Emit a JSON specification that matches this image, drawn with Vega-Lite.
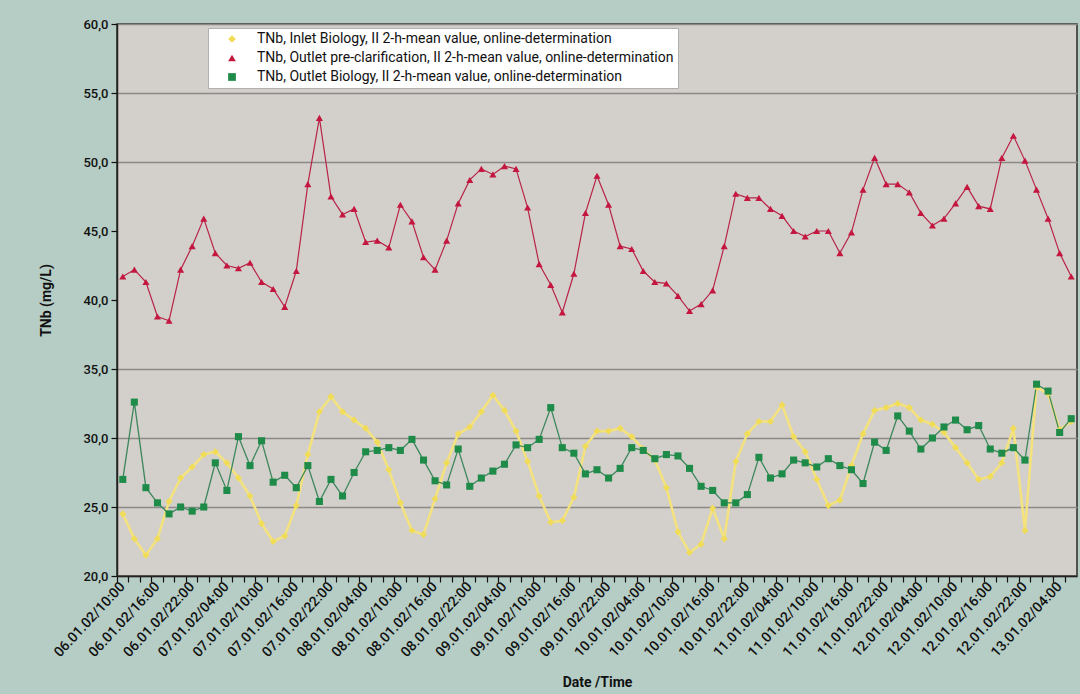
{
  "$schema": "https://vega.github.io/schema/vega-lite/v6.json",
  "width": 960,
  "height": 552,
  "autosize": {"type": "none"},
  "padding": {"left": 117, "top": 24, "right": 3, "bottom": 118},
  "background": "#b6cdc5",
  "config": {
    "font": "Roboto",
    "view": {"fill": "#d3cfcb", "stroke": "#2b2b2b", "strokeWidth": 1.5},
    "legend": {
      "orient": "none",
      "legendX": 91,
      "legendY": 4,
      "fillColor": "#ffffff",
      "strokeColor": "#b0b0b0",
      "padding": 4,
      "symbolSize": 60,
      "symbolOffset": 13,
      "labelOffset": 18,
      "rowPadding": 5,
      "labelFont": "Roboto",
      "labelFontSize": 14,
      "labelColor": "#111111",
      "labelLimit": 700
    }
  },
  "data": {"values": [
    {"t":"06.01.02/10:00","inlet":24.5,"pre":41.7,"outlet":27.0},
    {"t":"06.01.02/12:00","inlet":22.7,"pre":42.2,"outlet":32.6},
    {"t":"06.01.02/14:00","inlet":21.5,"pre":41.3,"outlet":26.4},
    {"t":"06.01.02/16:00","inlet":22.7,"pre":38.8,"outlet":25.3},
    {"t":"06.01.02/18:00","inlet":25.4,"pre":38.5,"outlet":24.5},
    {"t":"06.01.02/20:00","inlet":27.1,"pre":42.2,"outlet":25.0},
    {"t":"06.01.02/22:00","inlet":27.9,"pre":43.9,"outlet":24.7},
    {"t":"07.01.02/00:00","inlet":28.8,"pre":45.9,"outlet":25.0},
    {"t":"07.01.02/02:00","inlet":29.0,"pre":43.4,"outlet":28.2},
    {"t":"07.01.02/04:00","inlet":28.2,"pre":42.5,"outlet":26.2},
    {"t":"07.01.02/06:00","inlet":27.1,"pre":42.3,"outlet":30.1},
    {"t":"07.01.02/08:00","inlet":25.8,"pre":42.7,"outlet":28.0},
    {"t":"07.01.02/10:00","inlet":23.8,"pre":41.3,"outlet":29.8},
    {"t":"07.01.02/12:00","inlet":22.5,"pre":40.8,"outlet":26.8},
    {"t":"07.01.02/14:00","inlet":22.9,"pre":39.5,"outlet":27.3},
    {"t":"07.01.02/16:00","inlet":25.1,"pre":42.1,"outlet":26.4},
    {"t":"07.01.02/18:00","inlet":28.8,"pre":48.4,"outlet":28.0},
    {"t":"07.01.02/20:00","inlet":31.9,"pre":53.2,"outlet":25.4},
    {"t":"07.01.02/22:00","inlet":33.0,"pre":47.5,"outlet":27.0},
    {"t":"08.01.02/00:00","inlet":31.9,"pre":46.2,"outlet":25.8},
    {"t":"08.01.02/02:00","inlet":31.3,"pre":46.6,"outlet":27.5},
    {"t":"08.01.02/04:00","inlet":30.7,"pre":44.2,"outlet":29.0},
    {"t":"08.01.02/06:00","inlet":29.7,"pre":44.3,"outlet":29.1},
    {"t":"08.01.02/08:00","inlet":27.7,"pre":43.8,"outlet":29.3},
    {"t":"08.01.02/10:00","inlet":25.3,"pre":46.9,"outlet":29.1},
    {"t":"08.01.02/12:00","inlet":23.3,"pre":45.7,"outlet":29.9},
    {"t":"08.01.02/14:00","inlet":23.0,"pre":43.1,"outlet":28.4},
    {"t":"08.01.02/16:00","inlet":25.6,"pre":42.2,"outlet":26.9},
    {"t":"08.01.02/18:00","inlet":28.2,"pre":44.3,"outlet":26.6},
    {"t":"08.01.02/20:00","inlet":30.3,"pre":47.0,"outlet":29.2},
    {"t":"08.01.02/22:00","inlet":30.8,"pre":48.7,"outlet":26.5},
    {"t":"09.01.02/00:00","inlet":31.9,"pre":49.5,"outlet":27.1},
    {"t":"09.01.02/02:00","inlet":33.1,"pre":49.1,"outlet":27.6},
    {"t":"09.01.02/04:00","inlet":32.0,"pre":49.7,"outlet":28.1},
    {"t":"09.01.02/06:00","inlet":30.5,"pre":49.5,"outlet":29.5},
    {"t":"09.01.02/08:00","inlet":28.3,"pre":46.7,"outlet":29.3},
    {"t":"09.01.02/10:00","inlet":25.8,"pre":42.6,"outlet":29.9},
    {"t":"09.01.02/12:00","inlet":23.9,"pre":41.1,"outlet":32.2},
    {"t":"09.01.02/14:00","inlet":24.0,"pre":39.1,"outlet":29.3},
    {"t":"09.01.02/16:00","inlet":25.7,"pre":41.9,"outlet":28.9},
    {"t":"09.01.02/18:00","inlet":29.4,"pre":46.3,"outlet":27.4},
    {"t":"09.01.02/20:00","inlet":30.5,"pre":49.0,"outlet":27.7},
    {"t":"09.01.02/22:00","inlet":30.5,"pre":46.9,"outlet":27.1},
    {"t":"10.01.02/00:00","inlet":30.7,"pre":43.9,"outlet":27.8},
    {"t":"10.01.02/02:00","inlet":30.1,"pre":43.7,"outlet":29.3},
    {"t":"10.01.02/04:00","inlet":29.2,"pre":42.1,"outlet":29.1},
    {"t":"10.01.02/06:00","inlet":28.4,"pre":41.3,"outlet":28.5},
    {"t":"10.01.02/08:00","inlet":26.4,"pre":41.2,"outlet":28.8},
    {"t":"10.01.02/10:00","inlet":23.2,"pre":40.3,"outlet":28.7},
    {"t":"10.01.02/12:00","inlet":21.7,"pre":39.2,"outlet":27.8},
    {"t":"10.01.02/14:00","inlet":22.3,"pre":39.7,"outlet":26.5},
    {"t":"10.01.02/16:00","inlet":24.9,"pre":40.7,"outlet":26.2},
    {"t":"10.01.02/18:00","inlet":22.7,"pre":43.9,"outlet":25.3},
    {"t":"10.01.02/20:00","inlet":28.3,"pre":47.7,"outlet":25.3},
    {"t":"10.01.02/22:00","inlet":30.3,"pre":47.4,"outlet":25.9},
    {"t":"11.01.02/00:00","inlet":31.2,"pre":47.4,"outlet":28.6},
    {"t":"11.01.02/02:00","inlet":31.2,"pre":46.6,"outlet":27.1},
    {"t":"11.01.02/04:00","inlet":32.4,"pre":46.1,"outlet":27.4},
    {"t":"11.01.02/06:00","inlet":30.1,"pre":45.0,"outlet":28.4},
    {"t":"11.01.02/08:00","inlet":29.0,"pre":44.6,"outlet":28.2},
    {"t":"11.01.02/10:00","inlet":27.0,"pre":45.0,"outlet":27.9},
    {"t":"11.01.02/12:00","inlet":25.1,"pre":45.0,"outlet":28.5},
    {"t":"11.01.02/14:00","inlet":25.5,"pre":43.4,"outlet":28.0},
    {"t":"11.01.02/16:00","inlet":28.0,"pre":44.9,"outlet":27.7},
    {"t":"11.01.02/18:00","inlet":30.3,"pre":48.0,"outlet":26.7},
    {"t":"11.01.02/20:00","inlet":32.0,"pre":50.3,"outlet":29.7},
    {"t":"11.01.02/22:00","inlet":32.2,"pre":48.4,"outlet":29.1},
    {"t":"12.01.02/00:00","inlet":32.5,"pre":48.4,"outlet":31.6},
    {"t":"12.01.02/02:00","inlet":32.2,"pre":47.8,"outlet":30.5},
    {"t":"12.01.02/04:00","inlet":31.3,"pre":46.3,"outlet":29.2},
    {"t":"12.01.02/06:00","inlet":31.0,"pre":45.4,"outlet":30.0},
    {"t":"12.01.02/08:00","inlet":30.4,"pre":45.9,"outlet":30.8},
    {"t":"12.01.02/10:00","inlet":29.3,"pre":47.0,"outlet":31.3},
    {"t":"12.01.02/12:00","inlet":28.2,"pre":48.2,"outlet":30.6},
    {"t":"12.01.02/14:00","inlet":27.0,"pre":46.8,"outlet":30.9},
    {"t":"12.01.02/16:00","inlet":27.2,"pre":46.6,"outlet":29.2},
    {"t":"12.01.02/18:00","inlet":28.2,"pre":50.3,"outlet":28.9},
    {"t":"12.01.02/20:00","inlet":30.7,"pre":51.9,"outlet":29.3},
    {"t":"12.01.02/22:00","inlet":23.3,"pre":50.1,"outlet":28.4},
    {"t":"13.01.02/00:00","inlet":33.7,"pre":48.0,"outlet":33.9},
    {"t":"13.01.02/02:00","inlet":33.2,"pre":45.9,"outlet":33.4},
    {"t":"13.01.02/04:00","inlet":30.6,"pre":43.4,"outlet":30.4},
    {"t":"13.01.02/06:00","inlet":31.2,"pre":41.7,"outlet":31.4}
  ]},
  "transform": [{"fold": ["inlet", "pre", "outlet"], "as": ["series", "value"]}],
  "encoding": {
    "x": {
      "field": "t", "type": "ordinal", "sort": null,
      "scale": {"type": "band", "paddingInner": 0, "paddingOuter": 0},
      "axis": {
        "title": "Date /Time",
        "bandPosition": 0,
        "labelExpr": "(substring(datum.label, 9, 11) == '04' || substring(datum.label, 9, 11) == '10' || substring(datum.label, 9, 11) == '16' || substring(datum.label, 9, 11) == '22') ? datum.label : ''",
        "labelOverlap": false,
        "labelBound": false,
        "labelAngle": -47,
        "labelAlign": "right",
        "labelBaseline": "middle",
        "labelFont": "Roboto",
        "labelFontSize": 14,
        "labelFontWeight": 500,
        "labelColor": "#111111",
        "labelPadding": 2,
        "tickColor": "#111111",
        "tickSize": 6,
        "tickWidth": 1.2,
        "domainColor": "#222222",
        "domainWidth": 1.5,
        "grid": false,
        "titleFont": "Roboto",
        "titleFontSize": 14,
        "titleFontWeight": "bold",
        "titleColor": "#111111",
        "titlePadding": 16
      }
    },
    "y": {
      "field": "value", "type": "quantitative",
      "scale": {"domain": [20, 60], "nice": false, "zero": false},
      "axis": {
        "title": "TNb (mg/L)",
        "values": [20, 25, 30, 35, 40, 45, 50, 55, 60],
        "labelExpr": "replace(format(datum.value, '.1f'), '.', ',')",
        "labelFont": "Roboto",
        "labelFontSize": 13,
        "labelFontWeight": 500,
        "labelColor": "#111111",
        "labelPadding": 3,
        "tickColor": "#111111",
        "tickSize": 6,
        "tickWidth": 1.2,
        "domainColor": "#222222",
        "domainWidth": 1.5,
        "grid": true,
        "gridColor": "#8c8a88",
        "gridWidth": 1.5,
        "gridOpacity": {"condition": {"test": "datum.value == 40 || datum.value == 45", "value": 0}, "value": 1},
        "titleFont": "Roboto",
        "titleFontSize": 14,
        "titleFontWeight": "bold",
        "titleColor": "#111111",
        "titlePadding": 29
      }
    }
  },
  "layer": [
    {
      "transform": [{"filter": "datum.series == 'inlet'"}],
      "mark": {"type": "line", "color": "#f3e27e", "strokeWidth": 2.6},
      "encoding": {}
    },
    {
      "transform": [{"filter": "datum.series == 'pre'"}],
      "mark": {"type": "line", "color": "#b82447", "strokeWidth": 1.2},
      "encoding": {}
    },
    {
      "transform": [{"filter": "datum.series == 'outlet'"}],
      "mark": {"type": "line", "color": "#3c875c", "strokeWidth": 1.3},
      "encoding": {}
    },
    {
      "mark": {"type": "point", "filled": true, "opacity": 1, "size": 50},
      "encoding": {
        "color": {
          "field": "series", "type": "nominal",
          "scale": {"domain": ["inlet", "pre", "outlet"], "range": ["#f1dc58", "#c4163f", "#1e8b49"]},
          "legend": {
            "title": null,
            "labelExpr": "datum.label == 'inlet' ? 'TNb, Inlet Biology, II 2-h-mean value, online-determination' : datum.label == 'pre' ? 'TNb, Outlet pre-clarification, II 2-h-mean value, online-determination' : 'TNb, Outlet Biology, II 2-h-mean value, online-determination'"
          }
        },
        "shape": {
          "field": "series", "type": "nominal",
          "scale": {"domain": ["inlet", "pre", "outlet"], "range": ["diamond", "triangle-up", "square"]},
          "legend": {
            "title": null,
            "labelExpr": "datum.label == 'inlet' ? 'TNb, Inlet Biology, II 2-h-mean value, online-determination' : datum.label == 'pre' ? 'TNb, Outlet pre-clarification, II 2-h-mean value, online-determination' : 'TNb, Outlet Biology, II 2-h-mean value, online-determination'"
          }
        }
      }
    }
  ]
}
